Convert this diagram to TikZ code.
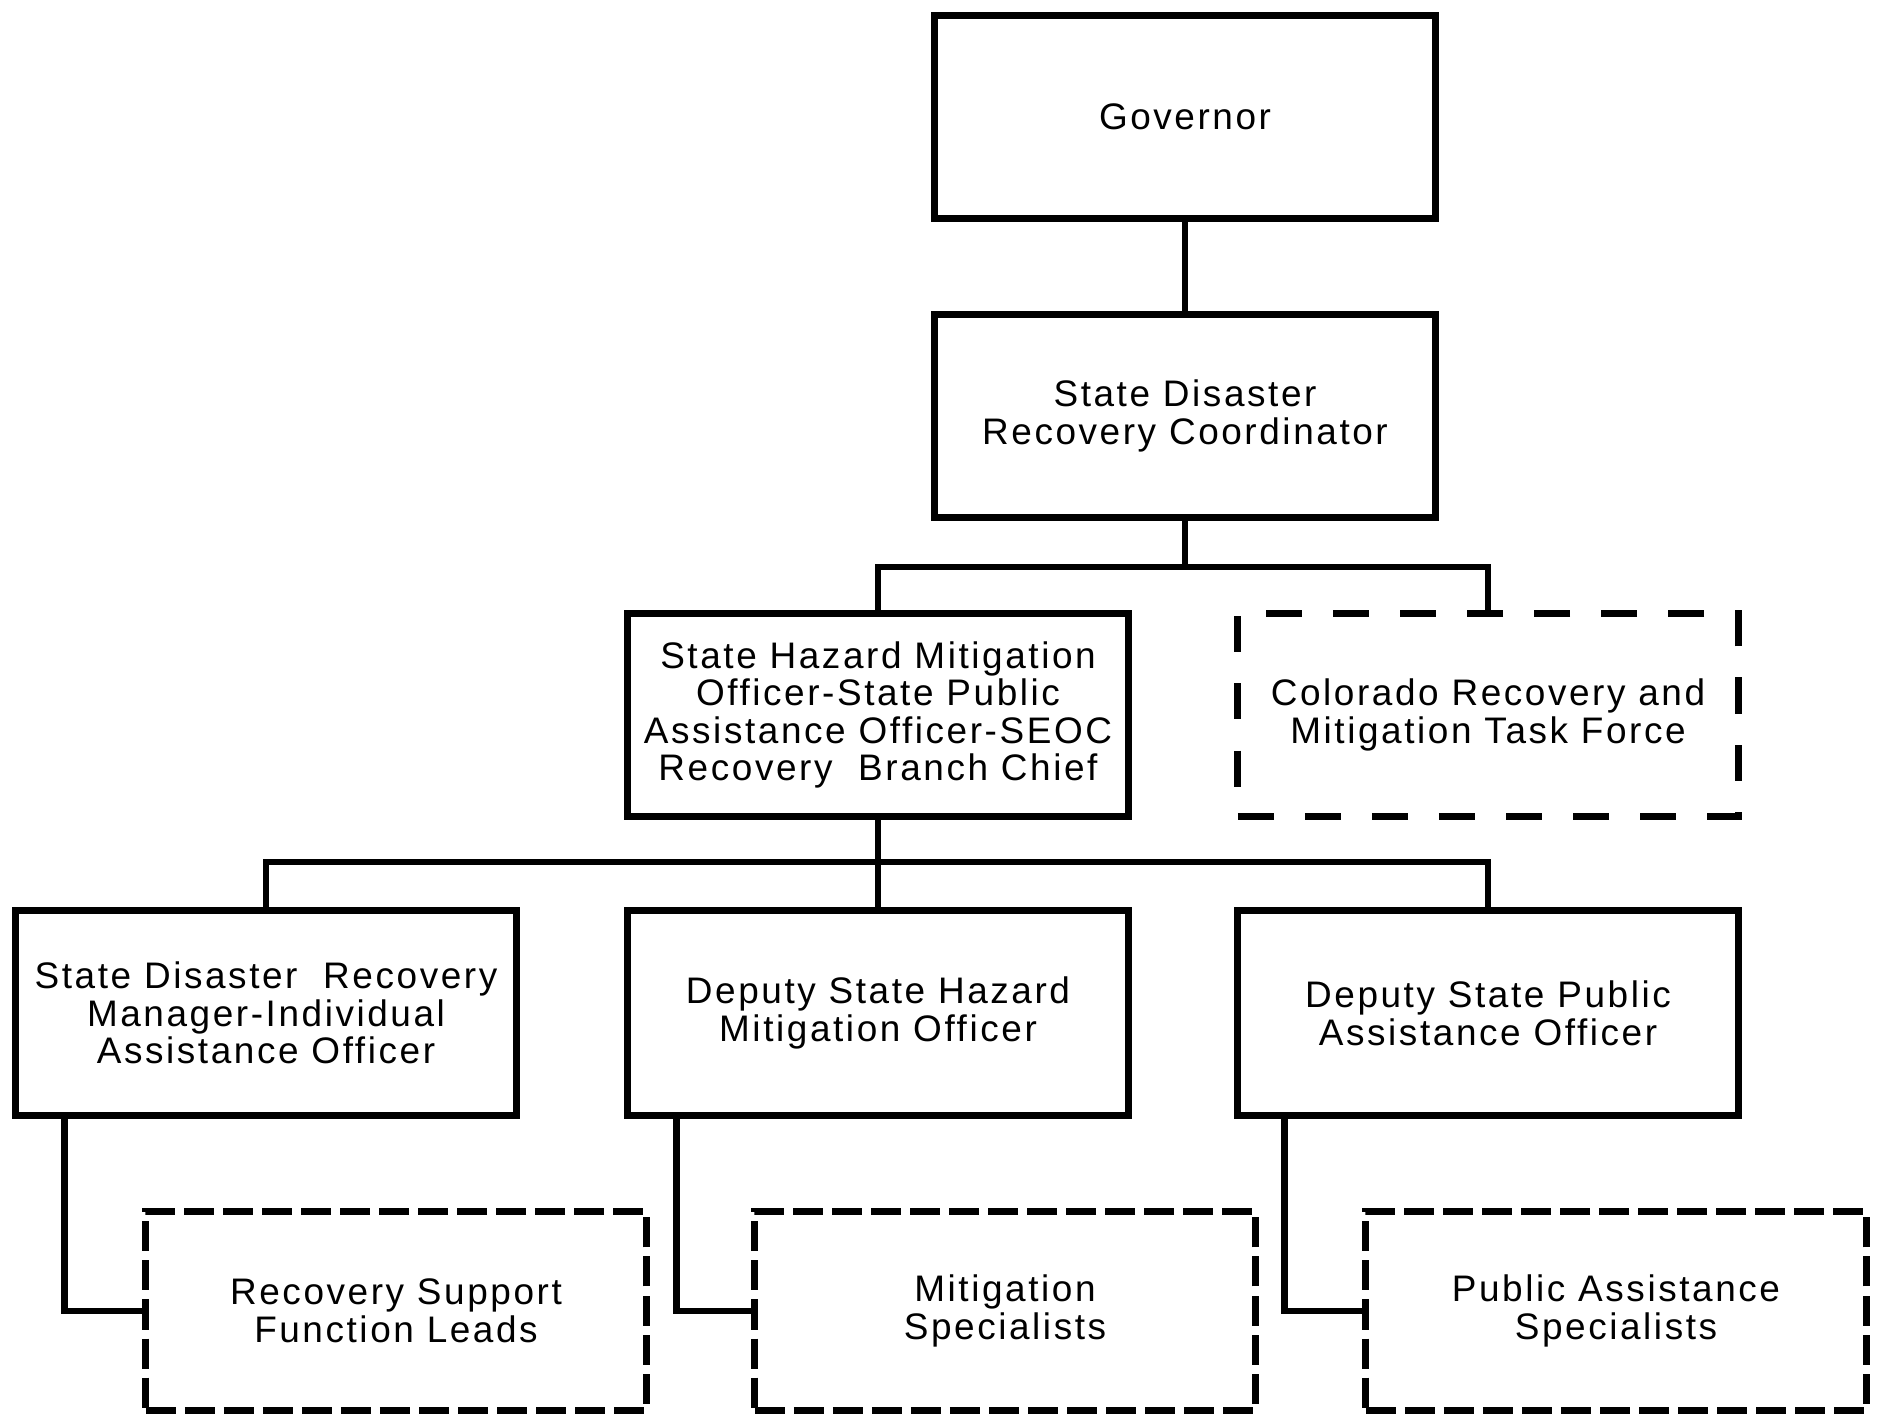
\documentclass[tikz,border=0pt]{standalone}
\usepackage{fontspec}
\newfontfamily\orgfont[LetterSpace=7]{Liberation Sans}
\tikzset{
  unit/.style={draw, line width=0.07cm, minimum width=5.0cm, minimum height=2.03cm, inner sep=0pt, align=center, font=\orgfont\fontsize{10.5pt}{10.7pt}\selectfont},
  team/.style={unit, dash pattern=on 0.36cm off 0.31cm},
  crew/.style={unit, minimum height=1.99cm, dash pattern=on 0.3cm off 0.09cm},
  link/.style={line width=0.065cm}
}
\begin{document}
\begin{tikzpicture}[x=0.01cm,y=-0.01cm]
    \useasboundingbox (0,0) rectangle (1885,1416);
    % top of the chain
    \node [unit] (gov) at (1185,117) {Governor};
    \node [unit] (sdrc) at (1185,416) {State Disaster\\Recovery Coordinator};
    \node [unit] (shmo) at (878,715) {State Hazard Mitigation\\Officer-State Public\\Assistance Officer-SEOC\\Recovery\ \ Branch Chief};
    \node [team] (crmtf) at (1488,715) {Colorado Recovery and\\Mitigation Task Force};
    % officers
    \node [unit, minimum height=2.04cm] (sdrm) at (266,1013) {State Disaster\ \ Recovery\\Manager-Individual\\Assistance Officer};
    \node [unit, minimum height=2.04cm] (dshmo) at (878,1013) {Deputy State Hazard\\Mitigation Officer};
    \node [unit, minimum height=2.04cm] (dspao) at (1488,1013) {Deputy State Public\\Assistance Officer};
    % specialists
    \node [crew] (rsf) at (396,1311) {Recovery Support\\Function Leads};
    \node [crew] (mits) at (1005,1311) {Mitigation\\Specialists};
    \node [crew] (pas) at (1616,1311) {Public Assistance\\Specialists};

    \coordinate (bus1) at (1185,567);
    \coordinate (bus2) at (878,862);
    \draw [link] (gov) -- (sdrc);
    \draw [link] (sdrc) -- (bus1) -| (shmo);
    \draw [link] (bus1) -| (crmtf);
    \draw [link] (shmo) -- (bus2) -| (sdrm);
    \draw [link] (bus2) -- (dshmo);
    \draw [link] (bus2) -| (dspao);
    \draw [link] ([xshift=0.52cm]sdrm.south west) |- (rsf.west);
    \draw [link] ([xshift=0.52cm]dshmo.south west) |- (mits.west);
    \draw [link] ([xshift=0.5cm]dspao.south west) |- (pas.west);
\end{tikzpicture}
\end{document}
